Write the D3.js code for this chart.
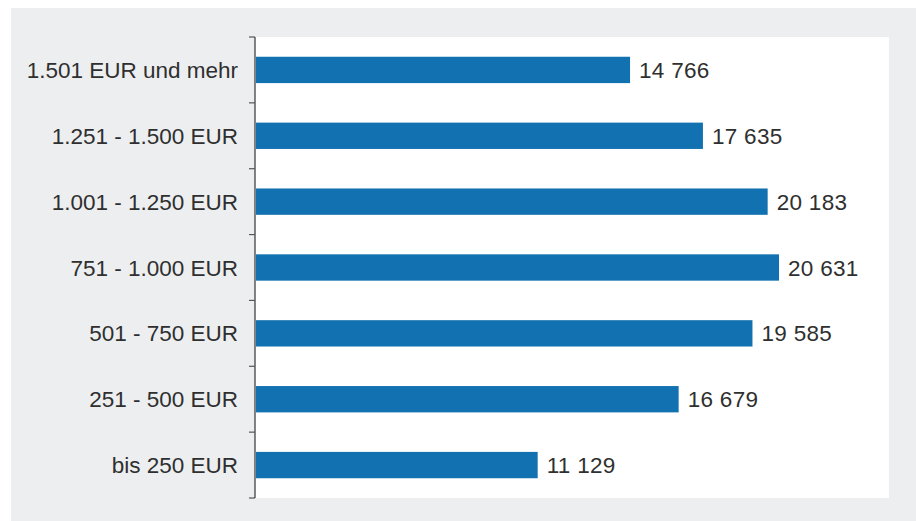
<!DOCTYPE html>
<html><head><meta charset="utf-8">
<script src="https://cdn.jsdelivr.net/npm/d3@7"></script>
<style>
html,body{margin:0;padding:0;background:#fff;}
svg{display:block;}
</style></head>
<body>
<svg id="chart" width="916" height="521"></svg>
<script>
const categories = ["1.501 EUR und mehr","1.251 - 1.500 EUR","1.001 - 1.250 EUR","751 - 1.000 EUR","501 - 750 EUR","251 - 500 EUR","bis 250 EUR"];
const values = [14766, 17635, 20183, 20631, 19585, 16679, 11129];
const xDomain = [0, 25000];

(function(){
const svg = d3.select("#chart");
const W = 916, H = 521;
const font = "'Liberation Sans', Arial, sans-serif";
const textColor = "#2f2f2f";

svg.append("rect").attr("x",11).attr("y",8).attr("width",W-11).attr("height",H-8).attr("fill","#edeef0");

const pl = 255, pr = 889, pt = 37, pb = 498;
svg.append("rect").attr("x",pl).attr("y",pt).attr("width",pr-pl).attr("height",pb-pt).attr("fill","#fff");

const x = d3.scaleLinear().domain(xDomain).range([pl, 890]);
const y = d3.scaleBand().domain(categories).range([pt, pb]).paddingInner(0.6).paddingOuter(0.3);

const data = categories.map((c,i)=>({c, v: values[i]}));

svg.selectAll("rect.bar").data(data).join("rect")
  .attr("class","bar")
  .attr("x", x(0)+1)
  .attr("y", d=>y(d.c))
  .attr("width", d=>x(d.v)-x(0)-1)
  .attr("height", y.bandwidth())
  .attr("fill","#1271b0");

const fmt = v => d3.format(",")(v).replace(/,/g," ");
svg.selectAll("text.val").data(data).join("text")
  .attr("class","val")
  .attr("x", d=>x(d.v)+9)
  .attr("y", d=>y(d.c)+y.bandwidth()/2)
  .attr("dy","0.36em")
  .attr("font-family",font).attr("font-size",22.5).attr("letter-spacing","0.3px").attr("fill",textColor)
  .text(d=>fmt(d.v));

const axisG = svg.append("g");
axisG.append("line").attr("x1",pl).attr("x2",pl).attr("y1",pt).attr("y2",pb)
  .attr("stroke","#333").attr("stroke-width",1.2);
const bounds = categories.map(c=>y(c)-y.step()*y.paddingInner()/2);
bounds[0] = pt; bounds.push(pb);
axisG.selectAll("line.tick").data(bounds).join("line").attr("class","tick")
  .attr("x1",pl-6).attr("x2",pl).attr("y1",d=>d).attr("y2",d=>d)
  .attr("stroke","#555").attr("stroke-width",1.2);

svg.selectAll("text.cat").data(categories).join("text")
  .attr("class","cat")
  .attr("x", 238)
  .attr("y", d=>y(d)+y.bandwidth()/2)
  .attr("dy","0.36em")
  .attr("text-anchor","end")
  .attr("font-family",font).attr("font-size",22.5).attr("fill",textColor)
  .text(d=>d);
})();
</script>
</body></html>
